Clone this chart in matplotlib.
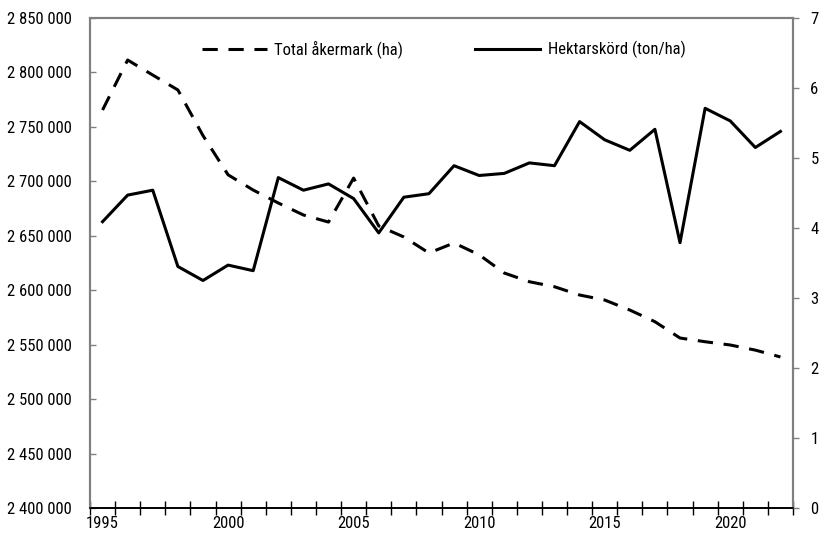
import matplotlib.pyplot as plt
from matplotlib.ticker import FuncFormatter, FixedLocator

plt.rcParams['font.family'] = ['Roboto Condensed', 'Liberation Sans Narrow', 'DejaVu Sans']
plt.rcParams['font.size'] = 12

# ------ data ------
years = list(range(1995, 2023))
akermark = [2765500, 2811400, 2797600, 2783900, 2742000, 2706000, 2692000, 2680100,
            2669100, 2662600, 2703000, 2659000, 2648900, 2634200, 2643400, 2632500,
            2615800, 2607800, 2603200, 2595600, 2591000, 2581800, 2571100, 2556100,
            2552700, 2549700, 2545000, 2538700]
hektarskord = [4.09, 4.47, 4.54, 3.45, 3.25, 3.47, 3.39, 4.72, 4.54, 4.63, 4.42, 3.93,
               4.44, 4.49, 4.89, 4.75, 4.78, 4.93, 4.89, 5.52, 5.26, 5.11, 5.41, 3.79,
               5.71, 5.53, 5.15, 5.38]
label_left = 'Total åkermark (ha)'
label_right = 'Hektarskörd (ton/ha)'
# ------ /data ------

fig = plt.figure(figsize=(8.22, 5.37), dpi=100)
ax = fig.add_axes([90/822, 1 - 508/537, 703/822, 490/537])
ax2 = ax.twinx()

x = list(range(len(years)))
l1, = ax.plot(x, akermark, color='black', lw=2.2, ls=(0, (5, 3.5)), label=label_left)
l2, = ax2.plot(x, hektarskord, color='black', lw=2.2, label=label_right)

ax.set_xlim(-0.5, len(years) - 0.5)
ax.set_ylim(2400000, 2850000)
ax2.set_ylim(0, 7)
ax.set_yticks(range(2400000, 2850001, 50000))
ax.yaxis.set_major_formatter(FuncFormatter(lambda v, p: f'{int(v):,}'.replace(',', ' ')))
ax2.set_yticks(range(0, 8))

# year labels every 5 years, ticks between categories
ax.set_xticks([i for i, y in enumerate(years) if y % 5 == 0])
ax.set_xticklabels([str(y) for y in years if y % 5 == 0])
ax.xaxis.set_minor_locator(FixedLocator([i + 0.5 for i in range(-1, len(years))]))
ax.tick_params(axis='x', which='major', length=0, pad=6)
ax.tick_params(axis='x', which='minor', direction='inout', length=10, width=1, color='black')

grey = '#808080'
for a in (ax, ax2):
    for s in ('left', 'right', 'top'):
        a.spines[s].set_color(grey)
        a.spines[s].set_linewidth(1.5)
    a.spines['bottom'].set_color('black')
    a.spines['bottom'].set_linewidth(1.2)
ax.tick_params(axis='y', direction='in', length=4.5, width=1, color=grey, pad=13)
ax2.tick_params(axis='y', direction='out', length=4.5, width=1, color=grey, pad=8)

ax.legend([l1, l2], [label_left, label_right], loc='upper center', ncol=2,
          frameon=False, bbox_to_anchor=(0.503, 0.985), handlelength=3.9,
          handletextpad=0.45, columnspacing=4.3, fontsize=12)

plt.savefig('out.png', dpi=100)
